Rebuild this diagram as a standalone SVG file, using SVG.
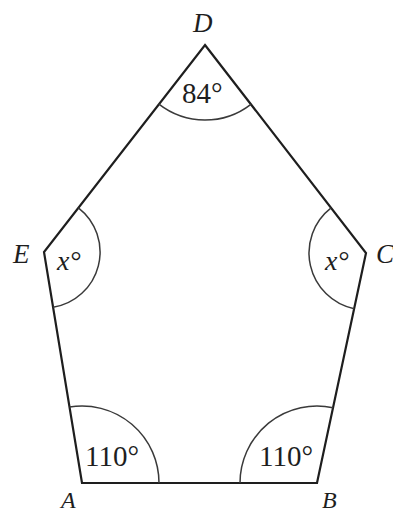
<svg xmlns="http://www.w3.org/2000/svg" width="393" height="512" viewBox="0 0 393 512">
<style>
.edge{fill:none;stroke:#1e1e1e;stroke-width:2.2;stroke-linejoin:miter}
.arc{fill:none;stroke:#3a3a3a;stroke-width:1.5}
.lbl{font-family:"Liberation Serif","Times New Roman",serif;font-style:italic;font-size:27px;fill:#1e1e1e}
.lbl2{font-family:"Liberation Serif","Times New Roman",serif;font-style:italic;font-size:24px;fill:#1e1e1e}
.ang{font-family:"Liberation Serif","Times New Roman",serif;font-size:29px;fill:#1e1e1e}
.angi{font-family:"Liberation Serif","Times New Roman",serif;font-style:italic;font-size:28px;fill:#1e1e1e}
</style>
<rect width="393" height="512" fill="#ffffff"/>
<g id="connectors">
<polygon class="edge" points="205,45 366,253 317,483 82,483 44,252"/>
</g>
<g id="D">
<path class="arc" d="M158.9,104.2 A75,75 0 0 0 250.9,104.3"/>
<text class="lbl" x="193" y="32">D</text>
<text class="ang" x="182" y="103">84°</text>
</g>
<g id="E">
<path class="arc" d="M78.4,207.8 A56,56 0 0 1 53.1,307.3"/>
<text class="lbl" x="13" y="263">E</text>
<text class="angi" x="57" y="270">x°</text>
</g>
<g id="C">
<path class="arc" d="M331.1,207.9 A57,57 0 0 0 354.1,308.7"/>
<text class="lbl" x="376" y="263">C</text>
<text class="angi" x="325" y="270">x°</text>
</g>
<g id="A">
<path class="arc" d="M69.5,407 A77,77 0 0 1 159,483"/>
<text class="lbl2" x="61" y="508">A</text>
<text class="ang" x="85" y="466">110°</text>
</g>
<g id="B">
<path class="arc" d="M240,483 A77,77 0 0 1 333,407.7"/>
<text class="lbl2" x="322" y="508">B</text>
<text class="ang" x="259" y="466">110°</text>
</g>
</svg>
